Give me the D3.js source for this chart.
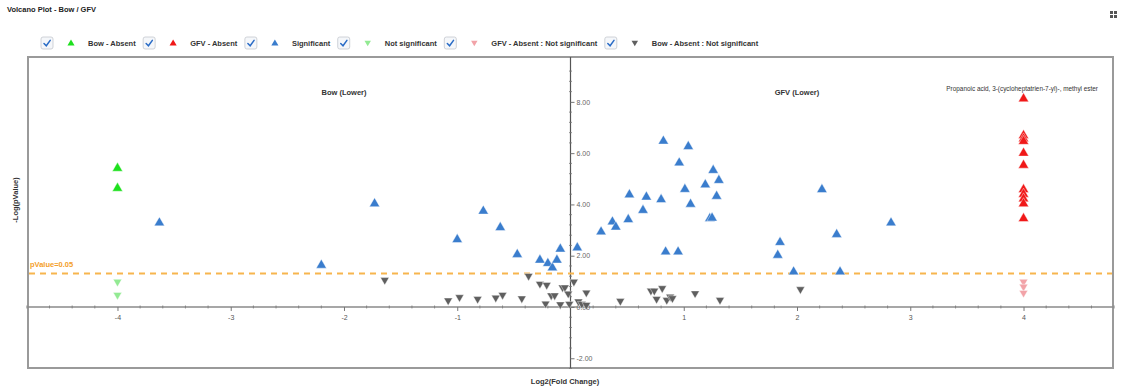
<!DOCTYPE html>
<html>
<head>
<meta charset="utf-8">
<script src="https://cdn.jsdelivr.net/npm/d3@7"></script>
<style>
html,body{margin:0;padding:0;background:#fff;}
svg{display:block;font-family:"Liberation Sans",Arial,sans-serif;}
</style>
</head>
<body>
<svg id="chart" width="1124" height="391"></svg>
<script>
// ---------- data ----------
const chartTitle = "Volcano Plot - Bow / GFV";
const xTitle = "Log2(Fold Change)";
const yTitle = "-Log(pValue)";
const legendLabels = ["Bow - Absent","GFV - Absent","Significant","Not significant","GFV - Absent : Not significant","Bow - Absent : Not significant"];
const xTicks = [-4,-3,-2,-1,1,2,3,4];
const yTicks = [-2,0,2,4,6,8];
const pThreshold = 0.05;
const regionLabels = ["Bow (Lower)","GFV (Lower)"];
const regionLabelX = [-2, 2];
const annotationText = "Propanoic acid, 3-(cycloheptatrien-7-yl)-, methyl ester";

const bowAbsent = [[-4,5.41],[-4,4.63]];
const gfvAbsent = [[4,8.12],[4,6.69],[4,6.56],[4,6.46],[4,6.00],[4,5.53],[4,4.58],[4,4.40],[4,4.22],[4,4.03],[4,3.45]];
const significant = [
 [-3.63,3.28],[-2.20,1.63],[-1.73,4.03],[-1.00,2.63],[-0.77,3.74],[-0.62,3.10],[-0.47,2.05],
 [-0.27,1.83],[-0.20,1.70],[-0.16,1.53],[-0.12,1.83],[-0.09,2.26],[0.06,2.31],
 [0.27,2.93],[0.37,3.32],[0.40,3.12],[0.51,3.41],[0.52,4.38],[0.64,3.77],[0.67,4.29],
 [0.80,4.19],[0.82,6.47],[0.84,2.15],[0.95,2.15],[0.96,5.62],[1.01,4.59],[1.04,6.26],
 [1.06,4.01],[1.19,4.77],[1.23,3.45],[1.25,3.47],[1.26,5.33],[1.29,4.32],[1.31,4.94],
 [1.83,2.02],[1.85,2.52],[1.97,1.37],[2.22,4.58],[2.35,2.83],[2.38,1.37],[2.83,3.28]
];
const notSignificant = [[-4,0.98],[-4,0.47]];
const gfvAbsentNS = [[4,0.98],[4,0.79],[4,0.55]];
const bowAbsentNS = [
 [-1.64,1.05],[-1.08,0.25],[-0.98,0.38],[-0.82,0.31],[-0.66,0.36],[-0.60,0.47],[-0.43,0.33],
 [-0.37,1.21],[-0.27,0.90],[-0.21,0.86],[-0.22,0.13],[-0.17,0.45],[-0.14,0.45],[-0.09,0.10],
 [-0.07,0.76],[-0.05,0.76],[-0.02,0.52],[-0.01,0.12],[0.03,0.98],[0.07,0.21],[0.10,0.12],
 [0.14,0.56],[0.14,0.08],[0.44,0.23],[0.71,0.63],[0.74,0.63],[0.76,0.31],[0.81,0.73],
 [0.85,0.27],[0.88,0.40],[0.90,0.34],[1.10,0.53],[1.32,0.27],[2.03,0.69]
];

// ---------- style ----------
const colors = ["#1ee01e","#f01818","#3a7dcd","#93ea93","#f2a3a8","#5f5f5f"];
const up = [true,true,true,false,false,false];
const seriesData = [bowAbsent,gfvAbsent,significant,notSignificant,gfvAbsentNS,bowAbsentNS];

const svg = d3.select("#chart");
const plot = {left:28, top:57, right:1113, bottom:368};

const x = d3.scaleLinear().domain([-4.79,4.79]).range([plot.left, plot.right]);
const y = d3.scaleLinear().domain([-2.38,9.75]).range([plot.bottom, plot.top]);

// title
svg.append("text").attr("x",7).attr("y",12).attr("font-size",7.5).attr("font-weight","bold")
  .attr("fill","#222").text(chartTitle);

// top-right icon
const icon = svg.append("g").attr("fill","#555");
[[0,0],[4,0],[0,4],[4,4]].forEach(p=>icon.append("rect").attr("x",1110+p[0]).attr("y",11+p[1]).attr("width",3).attr("height",3));

// legend
const sym = (isUp,size)=> d3.symbol().type(d3.symbolTriangle).size(size)();
let lx = 41;
const ly = 43;
legendLabels.forEach((lab,i)=>{
  const g = svg.append("g");
  g.append("rect").attr("x",lx).attr("y",ly-6).attr("width",12).attr("height",12).attr("rx",2)
    .attr("fill","#f5f7fa").attr("stroke","#c4c8ce").attr("stroke-width",0.8);
  g.append("path").attr("d",`M${lx+3},${ly+0.5} L${lx+5.3},${ly+2.8} L${lx+9.2},${ly-2.6}`)
    .attr("fill","none").attr("stroke","#2a6cc6").attr("stroke-width",1.5).attr("stroke-linecap","round");
  g.append("path").attr("d",sym(up[i],up[i]?22:18))
    .attr("transform",`translate(${lx+30},${ly+(up[i]?0.5:-0.5)}) rotate(${up[i]?0:180})`)
    .attr("fill",colors[i]);
  const t = g.append("text").attr("x",lx+47).attr("y",ly+2.7).attr("font-size",7.5).attr("font-weight","bold")
    .attr("fill","#333").text(lab);
  lx = lx + 47 + t.node().getComputedTextLength() + 7.5;
});

// plot border
svg.append("rect").attr("x",plot.left).attr("y",plot.top)
  .attr("width",plot.right-plot.left).attr("height",plot.bottom-plot.top)
  .attr("fill","none").attr("stroke","#9a9a9a").attr("stroke-width",2);

// x axis line (at y=0)
const axisColor = "#8a8a8a";
svg.append("line").attr("x1",plot.left).attr("x2",plot.right).attr("y1",y(0)).attr("y2",y(0))
  .attr("stroke",axisColor).attr("stroke-width",1.6);
// y axis line (at x=0)
svg.append("line").attr("x1",x(0)).attr("x2",x(0)).attr("y1",plot.top).attr("y2",plot.bottom)
  .attr("stroke","#555").attr("stroke-width",1.2);

// x ticks: minor
const xMinor = d3.range(-4.8,4.81,0.2).filter(v=>Math.abs(Math.round(v)-v)>1e-6);
svg.append("g").selectAll("line").data(xMinor).join("line")
  .attr("x1",d=>x(d)).attr("x2",d=>x(d)).attr("y1",y(0)-1.5).attr("y2",y(0)+1.5)
  .attr("stroke","#777").attr("stroke-width",0.8);
const xAxis = d3.axisBottom(x).tickValues(xTicks).tickSize(4).tickFormat(d=>String(d));
const gx = svg.append("g").attr("transform",`translate(0,${y(0)})`).call(xAxis);
gx.select(".domain").remove();
gx.selectAll(".tick line").attr("stroke","#777");
gx.selectAll(".tick text").attr("font-size",7).attr("fill","#555").attr("dy","0.9em")
  .attr("font-family","Liberation Sans, Arial, sans-serif");

// y ticks
const yMinor = d3.range(-2.4,9.6,0.4).filter(v=>Math.abs(v/2-Math.round(v/2))>1e-6);
svg.append("g").selectAll("line").data(yMinor).join("line")
  .attr("x1",x(0)-1.5).attr("x2",x(0)+1.5).attr("y1",d=>y(d)).attr("y2",d=>y(d))
  .attr("stroke","#777").attr("stroke-width",0.8);
const yAxis = d3.axisRight(y).tickValues(yTicks).tickSize(4).tickFormat(d=>d.toFixed(2));
const gy = svg.append("g").attr("transform",`translate(${x(0)},0)`).call(yAxis);
gy.select(".domain").remove();
gy.selectAll(".tick line").attr("stroke","#777");
gy.selectAll(".tick text").attr("font-size",7).attr("fill","#666").attr("x",6)
  .attr("font-family","Liberation Sans, Arial, sans-serif");

// region labels
regionLabels.forEach((lab,i)=>{
  svg.append("text").attr("x",x(regionLabelX[i])).attr("y",95).attr("text-anchor","middle")
    .attr("font-size",7.5).attr("font-weight","bold").attr("fill","#333").text(lab);
});

// annotation
svg.append("text").attr("x",1098).attr("y",91).attr("text-anchor","end")
  .attr("font-size",6.4).attr("fill","#333").text(annotationText);

// threshold line
const thr = -Math.log10(pThreshold);
svg.append("line").attr("x1",plot.left+1).attr("x2",plot.right-1).attr("y1",y(thr)).attr("y2",y(thr))
  .attr("stroke","#f7b54e").attr("stroke-width",2).attr("stroke-dasharray","6,5");
svg.append("text").attr("x",30).attr("y",y(thr)-7).attr("font-size",7.5).attr("font-weight","bold")
  .attr("fill","#f4a02a").text(`pValue=${pThreshold}`);

// axis titles
svg.append("text").attr("x",565).attr("y",384).attr("text-anchor","middle")
  .attr("font-size",7.5).attr("font-weight","bold").attr("fill","#333").text(xTitle);
svg.append("text").attr("transform","translate(18,200) rotate(-90)").attr("text-anchor","middle")
  .attr("font-size",7.5).attr("font-weight","bold").attr("fill","#333").text(yTitle);

// points (draw non-significant first, then significant, then absent)
const order = [5,4,3,2,0,1];
order.forEach(i=>{
  svg.append("g").selectAll("path").data(seriesData[i]).join("path")
    .attr("d",sym(up[i], up[i]?46:32))
    .attr("transform",d=>`translate(${x(d[0])},${y(d[1])}) rotate(${up[i]?0:180})`)
    .attr("fill",colors[i])
    .attr("stroke", "#ffffff").attr("stroke-width",0.6).attr("stroke-opacity",0.7);
});
</script>
</body>
</html>
